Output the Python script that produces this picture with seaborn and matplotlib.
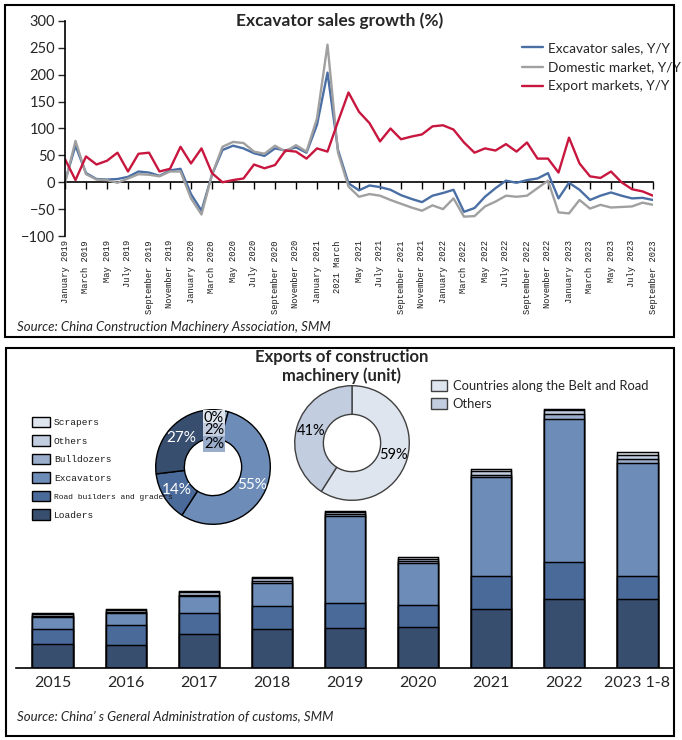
import numpy as np
import pandas as pd
import matplotlib
matplotlib.use("Agg")
import matplotlib.pyplot as plt
from matplotlib.patches import Rectangle, Patch
import seaborn as sns

# ---- excavator growth data (Y/Y %), Jan 2019 .. Sep 2023 ----
sales_yoy = [2, 68, 17, 6, 5, 6, 10, 20, 18, 12, 22, 25,
             -22, -53, 14, 60, 68, 63, 54, 49, 63, 59, 65, 55,
             107, 204, 60, -2, -15, -6, -9, -14, -24, -31, -37, -25,
             -20, -14, -55, -48, -27, -11, 3, -1, 4, 7, 17, -30,
             -1, -14, -33, -25, -19, -25, -30, -29, -33]
domestic_yoy = [-2, 77, 15, 5, 4, -1, 7, 15, 14, 11, 20, 20,
                -30, -60, 14, 66, 75, 73, 57, 53, 68, 57, 69, 57,
                119, 256, 55, -8, -27, -22, -25, -33, -40, -47, -53, -43,
                -50, -30, -64, -63, -45, -36, -25, -27, -25, -11, 3, -56,
                -58, -33, -49, -42, -47, -46, -45, -38, -42]
export_yoy = [43, 4, 48, 33, 40, 55, 20, 53, 55, 20, 25, 66,
              35, 63, 17, 0, 4, 7, 33, 26, 32, 59, 57, 44,
              63, 57, 113, 167, 131, 110, 76, 100, 80, 85, 89, 104,
              106, 98, 74, 55, 63, 59, 71, 57, 74, 44, 44, 18,
              83, 35, 11, 8, 20, 0, -13, -17, -25]
month_ticks = ["January 2019", "March 2019", "May 2019", "July 2019", "September 2019",
               "November 2019", "January 2020", "March 2020", "May 2020", "July 2020",
               "September 2020", "November 2020", "January 2021", "2021 March", "May 2021",
               "July 2021", "September 2021", "November 2021", "January 2022", "March 2022",
               "May 2022", "July 2022", "September 2022", "November 2022", "January 2023",
               "March 2023", "May 2023", "July 2023", "September 2023"]

# ---- export units by machine type ----
years = ["2015", "2016", "2017", "2018", "2019", "2020", "2021", "2022", "2023 1-8"]
loaders = [18200, 17500, 25600, 29600, 30600, 31400, 45100, 52700, 52200]
road_builders = [11400, 15200, 16200, 17500, 18500, 16700, 24600, 28100, 17500]
excavators = [9100, 9100, 12700, 17500, 66300, 31500, 75200, 108700, 86300]
bulldozers = [800, 1000, 1000, 1700, 1300, 1500, 1700, 3600, 3000]
others = [1500, 1500, 1900, 2100, 2100, 2100, 2900, 2700, 3000]
scrapers = [500, 500, 800, 700, 900, 900, 1400, 900, 1800]

# ---- donut shares ----
type_share_labels = ["Scrapers", "Others", "Bulldozers", "Excavators",
                     "Road builders and graders", "Loaders"]
type_share = [0.3, 2, 2, 55, 14, 27]
region_labels = ["Countries along the Belt and Road", "Others"]
region_share = [59, 41]

W, H = 682, 740
BLUE, GREY, RED = "#4a6fa5", "#a0a0a0", "#c8173f"
C_LOAD, C_ROAD, C_EXC = "#384e6f", "#4a6a9a", "#6d8cb8"
C_BULL, C_OTH, C_SCR = "#9aaecb", "#c3cde0", "#dfe5ef"

sns.set_theme(style="white")
plt.rcParams["font.family"] = ["Lato", "DejaVu Sans"]
MONO = "Liberation Mono"


def fx(x):
    return x / W


def fy(y):
    return 1 - y / H


fig = plt.figure(figsize=(W / 100, H / 100), dpi=100)

# panel frames
fig.add_artist(Rectangle((fx(5), fy(337)), fx(669), 332 / H, transform=fig.transFigure,
                         fill=False, edgecolor="black", linewidth=1.5))
fig.add_artist(Rectangle((fx(6), fy(736)), fx(668), 388 / H, transform=fig.transFigure,
                         fill=False, edgecolor="black", linewidth=1.5))

# ================= top: line chart =================
ax1 = fig.add_axes([fx(65), fy(236), fx(588), 215 / H])
n = len(sales_yoy)
df = pd.DataFrame({"month": np.arange(n),
                   "Excavator sales, Y/Y": sales_yoy,
                   "Domestic market, Y/Y": domestic_yoy,
                   "Export markets, Y/Y": export_yoy})
long_df = df.melt(id_vars="month", var_name="series", value_name="yoy")
sns.lineplot(data=long_df, x="month", y="yoy", hue="series",
             palette={"Excavator sales, Y/Y": BLUE, "Domestic market, Y/Y": GREY,
                      "Export markets, Y/Y": RED},
             linewidth=1.7, ax=ax1)
old = ax1.get_legend()
handles = old.legend_handles
labels = [t.get_text() for t in old.get_texts()]
old.remove()
ax1.legend(handles, labels, loc="upper left", bbox_to_anchor=(fx(510), fy(30)),
           bbox_transform=fig.transFigure, frameon=False, fontsize=9.8,
           handlelength=1.5, handletextpad=0.4, labelspacing=0.52)

ax1.set_xlim(0, n - 1)
ax1.set_ylim(-100, 300)
ax1.set_yticks(range(-100, 301, 50))
ax1.tick_params(axis="y", labelsize=10.5, length=5, width=1, direction="out", pad=2, left=True)
ax1.set_xticks(range(0, n, 2))
ax1.set_xticklabels(month_ticks, rotation=90, fontsize=6.3, family=MONO, color="#1a1a1a")
ax1.tick_params(axis="x", length=0, pad=3)
ax1.set_xlabel("")
ax1.set_ylabel("")
for s in ["top", "right", "bottom"]:
    ax1.spines[s].set_visible(False)
ax1.spines["left"].set_color("black")
ax1.spines["left"].set_linewidth(1.2)
zero_axis = ax1.secondary_xaxis(0.25)
zero_axis.set_xticks(range(0, n, 2))
zero_axis.tick_params(axis="x", labelbottom=False, labeltop=False, length=5, width=1,
                      direction="out", color="black")
zero_axis.spines["bottom"].set_color("black")
zero_axis.spines["bottom"].set_linewidth(1.2)
ax1.set_facecolor("none")

fig.text(fx(340), fy(21), "Excavator sales growth (%)", ha="center", va="center",
         fontsize=12.5, fontweight="bold")
fig.text(fx(17), fy(327), "Source: China Construction Machinery Association, SMM",
         ha="left", va="center", fontsize=9.5, style="italic")

# ================= bottom: stacked bars =================
ax2 = fig.add_axes([fx(16), fy(668), fx(658), 300 / H])
bar_df = pd.DataFrame({"year": years, "Loaders": loaders,
                       "Road builders and graders": road_builders,
                       "Excavators": excavators, "Bulldozers": bulldozers,
                       "Others": others, "Scrapers": scrapers})
layers = ["Loaders", "Road builders and graders", "Excavators", "Bulldozers", "Others", "Scrapers"]
layer_colors = {"Loaders": C_LOAD, "Road builders and graders": C_ROAD, "Excavators": C_EXC,
                "Bulldozers": C_BULL, "Others": C_OTH, "Scrapers": C_SCR}
cum = bar_df[layers].cumsum(axis=1)
# draw cumulative totals back to front so each layer's top edge marks a segment
for name in reversed(layers):
    sns.barplot(x=bar_df["year"], y=cum[name], color=layer_colors[name], saturation=1,
                width=0.55, edgecolor="black", linewidth=1.05, ax=ax2)
ax2.set_xlim(-0.5, len(years) - 0.5)
ax2.set_ylim(0, 228000)
ax2.set_yticks([])
ax2.set_xlabel("")
ax2.set_ylabel("")
ax2.tick_params(axis="x", length=0, labelsize=11.5, pad=6)
for s in ["top", "right", "left"]:
    ax2.spines[s].set_visible(False)
ax2.spines["bottom"].set_color("black")
ax2.spines["bottom"].set_linewidth(1.2)
ax2.set_facecolor("none")

fig.text(fx(342), fy(357), "Exports of construction", ha="center", va="center",
         fontsize=12, fontweight="bold")
fig.text(fx(342), fy(376), "machinery (unit)", ha="center", va="center",
         fontsize=12, fontweight="bold")
fig.text(fx(17), fy(717), "Source: China\u2019 s General Administration of customs, SMM",
         ha="left", va="center", fontsize=9.5, style="italic")

# donut: machine types
R = 57.3
half = 62


def donut_axes(cx, cy):
    a = fig.add_axes([fx(cx - half), fy(cy + half), fx(2 * half), 2 * half / H])
    a.axis("off")
    return a


def fix_limits(a):
    a.set_xlim(-half / R, half / R)
    a.set_ylim(-half / R, half / R)
    a.set_aspect("equal")


ax3 = donut_axes(213, 467)
type_colors = [C_SCR, C_OTH, C_BULL, C_EXC, C_ROAD, C_LOAD]
ax3.pie(type_share, colors=type_colors, startangle=90, counterclock=False,
        radius=1, wedgeprops=dict(width=0.5, edgecolor="black", linewidth=1),
        autopct=lambda p: f"{p:.0f}%" if p > 5 else "", pctdistance=0.75,
        textprops=dict(color="white", fontsize=11))
fix_limits(ax3)
small = [("0%", C_SCR, 418), ("2%", C_OTH, 430.5), ("2%", C_BULL, 444)]
for txt, col, ty in small:
    fig.text(fx(214), fy(ty), txt, ha="center", va="center", fontsize=10.5, color="black",
             bbox=dict(boxstyle="square,pad=0.05", facecolor=col, edgecolor="none"))

# donut: regions
ax4 = donut_axes(352, 443)
ax4.pie(region_share, colors=[C_SCR, C_OTH], startangle=90, counterclock=False, radius=1,
        wedgeprops=dict(width=0.5, edgecolor="#404040", linewidth=1),
        autopct=lambda p: f"{p:.0f}%", pctdistance=0.75,
        textprops=dict(color="black", fontsize=10.5))
fix_limits(ax4)

# legends
type_handles = [Patch(facecolor=c, edgecolor="black", linewidth=1) for c in type_colors]
leg1 = fig.legend(type_handles, type_share_labels, loc="upper left",
                  bbox_to_anchor=(fx(27), fy(412)), frameon=False,
                  prop=dict(family=MONO, size=6.8), handlelength=1.9, handleheight=1.35,
                  handletextpad=0.45, labelspacing=0.84, borderpad=0)
leg1.get_texts()[4].set_fontsize(5.8)
for t in leg1.get_texts():
    t.set_color("#1a1a1a")
region_handles = [Patch(facecolor=c, edgecolor="#404040", linewidth=1) for c in [C_SCR, C_OTH]]
fig.legend(region_handles, region_labels, loc="upper left", bbox_to_anchor=(fx(424), fy(373)),
           frameon=False, fontsize=9.4, handlelength=1.25, handleheight=0.95,
           handletextpad=0.45, labelspacing=0.5, borderpad=0)

fig.savefig("out.png", dpi=100)
